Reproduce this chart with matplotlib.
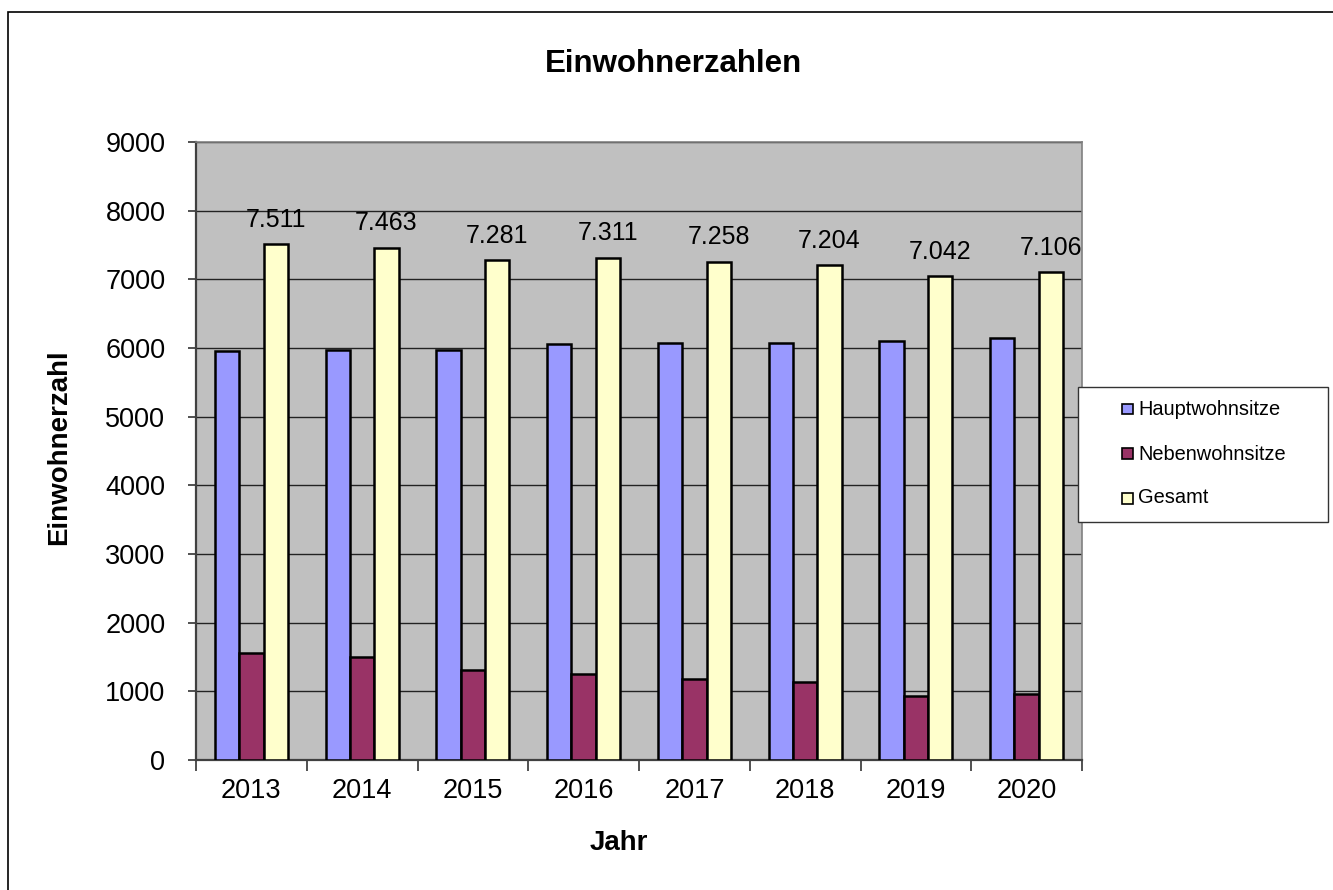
import matplotlib
matplotlib.use("Agg")
import matplotlib.pyplot as plt
from matplotlib.patches import Rectangle
import numpy as np

plt.rcParams['font.family'] = ['Liberation Sans', 'DejaVu Sans']

years = ['2013', '2014', '2015', '2016', '2017', '2018', '2019', '2020']
hauptwohnsitze = [5960, 5967, 5971, 6060, 6075, 6075, 6106, 6145]
nebenwohnsitze = [1551, 1496, 1310, 1251, 1183, 1129, 936, 961]
gesamt = [7511, 7463, 7281, 7311, 7258, 7204, 7042, 7106]
series_names = ['Hauptwohnsitze', 'Nebenwohnsitze', 'Gesamt']
series_colors = ['#9999FF', '#993366', '#FFFFCC']

W, H = 1333, 890
fig = plt.figure(figsize=(W / 100, H / 100), dpi=100)
fig.patch.set_facecolor('white')

# outer chart border
fig.patches.append(Rectangle((8 / W, -0.02), 1.1, 1 - 12 / H + 0.02,
                             transform=fig.transFigure, fill=False,
                             edgecolor='black', linewidth=1.2))

ax = fig.add_axes([196 / W, 1 - 760 / H, (1082 - 196) / W, (760 - 142) / H])
ax.set_facecolor('#C0C0C0')

x = np.arange(len(years))
bw = 0.22
series = [hauptwohnsitze, nebenwohnsitze, gesamt]
containers = []
for i, (vals, col) in enumerate(zip(series, series_colors)):
    c = ax.bar(x + (i - 1) * bw, vals, width=bw, color=col,
               edgecolor='black', linewidth=1.8, zorder=3, label=series_names[i])
    containers.append(c)

labels = [f"{v:,}".replace(',', '.') for v in gesamt]
ax.bar_label(containers[2], labels=labels, padding=9, fontsize=18, color='black')

ax.set_xlim(-0.5, len(years) - 0.5)
ax.set_ylim(0, 9000)
ax.set_yticks(np.arange(0, 9001, 1000))
ax.set_yticklabels([str(v) for v in range(0, 9001, 1000)])
ax.yaxis.grid(True, color='#222222', linewidth=1.0, zorder=1)
ax.set_axisbelow(True)

ax.set_xticks(np.arange(-0.5, len(years), 1.0))
ax.set_xticklabels([])
ax.set_xticks(x, minor=True)
ax.set_xticklabels(years, minor=True)
ax.tick_params(axis='x', which='major', direction='out', length=8, width=1.2, color='#333333')
ax.tick_params(axis='x', which='minor', length=0, pad=13, labelsize=19.5)
ax.tick_params(axis='y', direction='out', length=6, width=1.2, color='#333333',
               pad=16, labelsize=19.5)

for s in ['left', 'bottom']:
    ax.spines[s].set_color('#404040')
    ax.spines[s].set_linewidth(1.6)
for s in ['top', 'right']:
    ax.spines[s].set_color('#808080')
    ax.spines[s].set_linewidth(1.2)

fig.text(673.5 / W, 1 - 72.3 / H, 'Einwohnerzahlen', ha='center', va='baseline',
         fontsize=22.5, fontweight='bold')
fig.text(59 / W, 1 - 447.5 / H, 'Einwohnerzahl', ha='center', va='center',
         rotation=90, fontsize=20, fontweight='bold')
fig.text(618.5 / W, 1 - 850 / H, 'Jahr', ha='center', va='baseline',
         fontsize=20, fontweight='bold')

# legend box
lx0, ly0, lx1, ly1 = 1078, 387, 1328, 522
fig.patches.append(Rectangle((lx0 / W, 1 - ly1 / H), (lx1 - lx0) / W, (ly1 - ly0) / H,
                             transform=fig.transFigure, facecolor='white',
                             edgecolor='#333333', linewidth=1.0, zorder=5))
row_y = [409, 454, 498]
for name, col, ry in zip(series_names, series_colors, row_y):
    fig.patches.append(Rectangle((1122 / W, 1 - (ry + 5.5) / H), 11 / W, 11 / H,
                                 transform=fig.transFigure, facecolor=col,
                                 edgecolor='black', linewidth=1.2, zorder=6))
    fig.text(1138 / W, 1 - ry / H, name, ha='left', va='center', fontsize=14.4, zorder=7)

fig.savefig('out.png', dpi=100)
